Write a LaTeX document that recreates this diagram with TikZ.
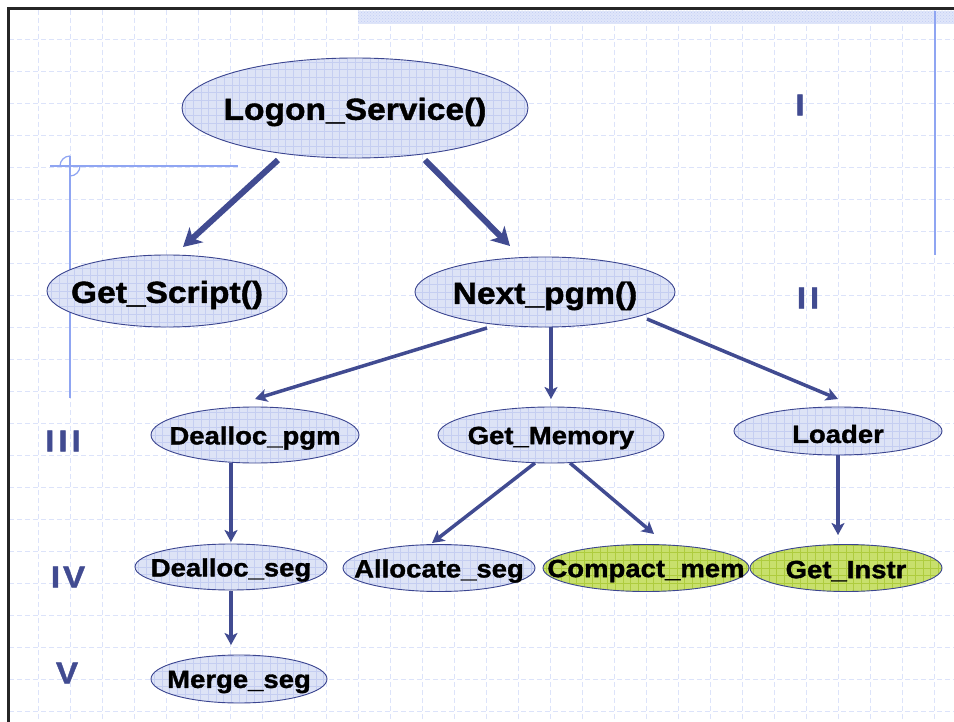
\documentclass[tikz,border=0pt]{standalone}
\usepackage{fontspec}
\setmainfont{Liberation Sans}[FakeStretch=1.1, BoldFeatures={FakeBold=1.3}]
\usetikzlibrary{arrows.meta,patterns,shapes.geometric}

\definecolor{gridline}{HTML}{DCE3FA}
\definecolor{nodefill}{HTML}{DDE3F6}
\definecolor{nodemesh}{HTML}{C5CEF1}
\definecolor{greenfill}{HTML}{C8E06C}
\definecolor{greenmesh}{HTML}{AECC3E}
\definecolor{edgeblue}{HTML}{3B4590}
\definecolor{arrowblue}{HTML}{414B91}
\definecolor{guide}{HTML}{8FA5F2}
\definecolor{stripe}{HTML}{E0E6FA}
\definecolor{stripedot}{HTML}{C2CEF5}

\tikzset{
  proc/.style={ellipse, draw=edgeblue, line width=0.9pt, fill=nodefill, inner sep=0pt,
    path picture={\draw[nodemesh, line width=0.5pt, step=7.7pt]
      (path picture bounding box.south west) grid (path picture bounding box.north east);}},
  procgreen/.style={proc, fill=greenfill,
    path picture={\draw[greenmesh, line width=0.5pt, step=7.7pt]
      (path picture bounding box.south west) grid (path picture bounding box.north east);}},
  bigtxt/.style={font=\fontsize{30.5}{34}\selectfont\bfseries, inner sep=0pt, yshift=-4pt},
  smalltxt/.style={font=\fontsize{25}{28}\selectfont\bfseries, inner sep=0pt, yshift=-3pt},
  level/.style={font=\fontsize{30}{34}\selectfont\bfseries, text=arrowblue, inner sep=0pt},
  thickarrow/.style={draw=arrowblue, line width=6pt,
    -{Stealth[length=18pt, width=20pt, inset=5pt]}},
  thinarrow/.style={draw=arrowblue, line width=3.5pt,
    -{Stealth[length=12pt, width=13pt, inset=3pt]}},
  bggrid/.style={gridline, line width=0.8pt, dash pattern=on 5pt off 3pt},
  guideline/.style={guide, line width=1.2pt}
}

\begin{document}
\begin{tikzpicture}[x=1pt, y=-1pt]
  \useasboundingbox (0,0) rectangle (954,722);
  \fill[white] (0,0) rectangle (954,722);

  % dashed background grid
  \foreach \gx in {38,70,...,934} \draw[bggrid] (\gx,10) -- (\gx,722);
  \foreach \gy in {39,71,...,711} \draw[bggrid] (9,\gy) -- (954,\gy);

  % top strip, frame and guides
  \fill[stripe] (358,11) rectangle (954,24);
  \fill[pattern=crosshatch dots, pattern color=stripedot] (358,11) rectangle (954,24);
  \draw[line width=2.8pt, black!85, line cap=rect] (8.5,722) -- (8.5,8.5) -- (954,8.5);
  \draw[guide, line width=1.8pt] (935,11) -- (935,255);
  \draw[guideline] (50,166) -- (238,166);
  \draw[guideline] (70,156) -- (70,398);
  \draw[guideline] (60,166) arc[start angle=180, end angle=90, radius=10pt];
  \draw[guideline] (80,166) arc[start angle=0, end angle=-90, radius=10pt];

  % level numerals
  \node[level] (lvI)   at (800,105) {I};
  \node[level] (lvII)  at (808,298) {I\hspace{4pt}I};
  \node[level] (lvIII) at (63,441)  {I\hspace{4pt}I\hspace{4pt}I};
  \node[level] (lvIV)  at (68,577)  {I\hspace{3pt}V};
  \node[level] (lvV)   at (67,673)  {V};

  % call tree
  \node[proc, minimum width=346pt, minimum height=100pt,
        label={[bigtxt]center:Logon\_Service()}] (logon) at (355,108) {};
  \node[proc, minimum width=240pt, minimum height=72pt,
        label={[bigtxt]center:Get\_Script()}] (getscript) at (167,291) {};
  \node[proc, minimum width=260pt, minimum height=70pt,
        label={[bigtxt]center:Next\_pgm()}] (nextpgm) at (545,292) {};
  \node[proc, minimum width=208pt, minimum height=56pt,
        label={[smalltxt]center:Dealloc\_pgm}] (deallocpgm) at (255,435) {};
  \node[proc, minimum width=226pt, minimum height=56pt,
        label={[smalltxt]center:Get\_Memory}] (getmem) at (551,435) {};
  \node[proc, minimum width=208pt, minimum height=48pt,
        label={[smalltxt]center:Loader}] (loader) at (838,431) {};
  \node[proc, minimum width=192pt, minimum height=46pt,
        label={[smalltxt]center:Dealloc\_seg}] (deallocseg) at (231,567) {};
  \node[proc, minimum width=192pt, minimum height=47pt,
        label={[smalltxt]center:Allocate\_seg}] (allocseg) at (439,568) {};
  \node[procgreen, minimum width=206pt, minimum height=47pt,
        label={[smalltxt]center:Compact\_mem}] (compact) at (646,568) {};
  \node[procgreen, minimum width=192pt, minimum height=47pt,
        label={[smalltxt]center:Get\_Instr}] (getinstr) at (846,568) {};
  \node[proc, minimum width=176pt, minimum height=48pt,
        label={[smalltxt]center:Merge\_seg}] (merge) at (239,679) {};

  % calls
  \draw[thickarrow] ([shift={(-77,52)}]logon.center) -- ([shift={(16,-44)}]getscript.center);
  \draw[thickarrow] ([shift={(70,52)}]logon.center) -- ([shift={(-35,-46)}]nextpgm.center);
  \draw[thinarrow] ([shift={(-58,36)}]nextpgm.center) -- ([shift={(0,-36)}]deallocpgm.center);
  \draw[thinarrow] ([shift={(6,35)}]nextpgm.center) -- ([shift={(0,-36)}]getmem.center);
  \draw[thinarrow] ([shift={(102,27)}]nextpgm.center) -- ([shift={(0,-32)}]loader.center);
  \draw[thinarrow] ([shift={(-24,28)}]deallocpgm.center) -- ([shift={(0,-25)}]deallocseg.center);
  \draw[thinarrow] ([shift={(-16,28)}]getmem.center) -- ([shift={(-7,-25)}]allocseg.center);
  \draw[thinarrow] ([shift={(19,28)}]getmem.center) -- ([shift={(8,-34)}]compact.center);
  \draw[thinarrow] ([shift={(0,24)}]loader.center) -- ([shift={(-8,-33)}]getinstr.center);
  \draw[thinarrow] ([shift={(0,24)}]deallocseg.center) -- ([shift={(-8,-34)}]merge.center);
\end{tikzpicture}
\end{document}
